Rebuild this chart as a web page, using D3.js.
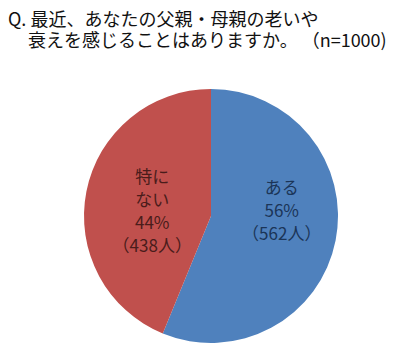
<!DOCTYPE html>
<html>
<head>
<meta charset="utf-8">
<script src="https://cdn.jsdelivr.net/npm/d3@7"></script>
<style>
  body { margin: 0; background: #fff; }
  text { font-family: "Noto Sans CJK JP", "Noto Sans", sans-serif; }
</style>
</head>
<body>
<svg id="chart"></svg>
<script>
// データ
const answers = ["ある", "特にない"];
const counts = [562, 438];
const percents = [56, 44];
const labelLines = [["ある"], ["特に", "ない"]];
const sliceColors = ["#4F81BD", "#C0504D"];
const textColors = ["#1B3558", "#4A1C1B"];
const titleLines = ["Q. 最近、あなたの父親・母親の老いや", "衰えを感じることはありますか。 （n=1000)"];

const width = 399, height = 351;
const svg = d3.select("#chart").attr("width", width).attr("height", height);

// タイトル
svg.append("text").attr("x", 8).attr("y", 26)
  .attr("font-size", "18px").attr("fill", "#111")
  .text(titleLines[0]);
svg.append("text").attr("x", 28).attr("y", 47)
  .attr("font-size", "18px").attr("fill", "#111")
  .text(titleLines[1]);

const cx = 211, cy = 216, r = 127;
const g = svg.append("g").attr("transform", `translate(${cx},${cy})`);

const pie = d3.pie().sort(null).value(d => d.count);
const data = answers.map((a, i) => ({ name: a, count: counts[i], pct: percents[i], lines: labelLines[i], i: i }));
const arcs = pie(data);

const arc = d3.arc().innerRadius(0).outerRadius(r);
g.selectAll("path")
  .data(arcs)
  .join("path")
  .attr("d", arc)
  .attr("fill", d => sliceColors[d.data.i]);

// ラベル
const labelArc = d3.arc().innerRadius(0).outerRadius(132);
const lineH = 23;
arcs.forEach(d => {
  const c = labelArc.centroid(d);
  const lines = d.data.lines.concat([d.data.pct + "%", "（" + d.data.count + "人）"]);
  const y0 = -8 - (lines.length - 1) * lineH / 2;
  const t = g.append("text")
    .attr("text-anchor", "middle")
    .attr("font-size", "17px")
    .attr("fill", textColors[d.data.i]);
  lines.forEach((s, k) => {
    t.append("tspan")
      .attr("x", c[0] + 6)
      .attr("y", y0 + k * lineH + 9)
      .text(s);
  });
});
</script>
</body>
</html>
